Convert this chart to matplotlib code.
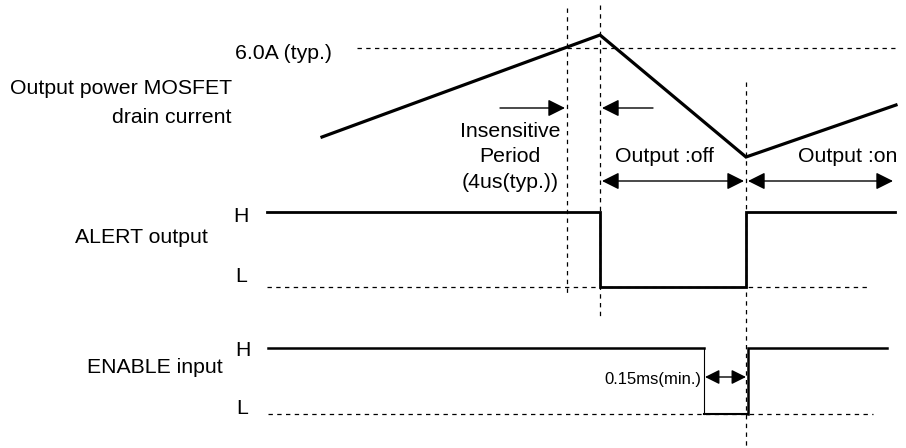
import matplotlib.pyplot as plt

plt.rcParams['font.family'] = ['Liberation Sans', 'DejaVu Sans']

# drain current waveform (x: time position, y: drawing level)
current_x = [322, 600, 746, 896]
current_y = [137, 35, 157, 105]
peak_level = 48

# ALERT output
alert_H, alert_L = 212, 287
alert_x = [267, 600, 600, 746, 746, 895]
alert_y = [alert_H, alert_H, alert_L, alert_L, alert_H, alert_H]

# ENABLE input
enable_H, enable_L = 348, 414
enable_fall, enable_rise = 704, 748
enable_start, enable_end = 268, 887

# timing markers
mark_x = [567, 600, 746]
mark_top = [8, 5, 82]
mark_bot = [293, 320, 448]

fig = plt.figure(figsize=(9.06, 4.48), dpi=100)
ax = fig.add_axes([0, 0, 1, 1])
ax.set_xlim(0, 906)
ax.set_ylim(448, 0)
ax.axis('off')

dash = dict(color='black', lw=0.9, linestyle=(0, (3.5, 3.5)))

# dashed guides
for x, t, b in zip(mark_x, mark_top, mark_bot):
    ax.plot([x, x], [t, b], **dash)
ax.plot([357, 895], [peak_level, peak_level], **dash)
ax.plot([267, 868], [alert_L, alert_L], **dash)
ax.plot([268, 873], [enable_L, enable_L], **dash)

# waveforms
ax.plot(current_x, current_y, color='black', lw=2.3, solid_joinstyle='miter')
ax.plot(alert_x, alert_y, color='black', lw=2.0, solid_joinstyle='miter')
ax.plot([enable_start, enable_fall], [enable_H, enable_H], color='black', lw=1.8)
ax.plot([enable_fall, enable_fall], [enable_H, enable_L], color='black', lw=0.8)
ax.plot([enable_fall, enable_rise], [enable_L, enable_L], color='black', lw=1.5)
ax.plot([enable_rise, enable_rise, enable_end], [enable_L, enable_H, enable_H],
        color='black', lw=1.8, solid_joinstyle='miter')

# arrows
def arrow(x0, x1, y, style, ms=26):
    ax.annotate('', xy=(x1, y), xytext=(x0, y),
                arrowprops=dict(arrowstyle=style, color='black', lw=1.0,
                                mutation_scale=ms, shrinkA=0, shrinkB=0))

arrow(500, 565, 108, '-|>')
arrow(653, 602, 108, '-|>')
arrow(602, 744, 181, '<|-|>')
arrow(748, 893, 181, '<|-|>')
arrow(705, 746, 377, '<|-|>', ms=22)

fs = 15.3
ax.text(332, 59, '6.0A (typ.)', fontsize=fs, ha='right', va='baseline')
ax.text(232, 94, 'Output power MOSFET', fontsize=fs, ha='right', va='baseline')
ax.text(232, 123, 'drain current', fontsize=fs, ha='right', va='baseline')
ax.text(510, 137, 'Insensitive', fontsize=fs, ha='center', va='baseline')
ax.text(510, 162, 'Period', fontsize=fs, ha='center', va='baseline')
ax.text(510, 188, '(4us(typ.))', fontsize=fs, ha='center', va='baseline')
ax.text(664, 162, 'Output :off', fontsize=fs, ha='center', va='baseline')
ax.text(848, 162, 'Output :on', fontsize=fs, ha='center', va='baseline')

ax.text(241, 222, 'H', fontsize=fs, ha='center', va='baseline')
ax.text(241, 282, 'L', fontsize=fs, ha='center', va='baseline')
ax.text(208, 243, 'ALERT output', fontsize=fs, ha='right', va='baseline')

ax.text(243, 356, 'H', fontsize=fs, ha='center', va='baseline')
ax.text(242, 414, 'L', fontsize=fs, ha='center', va='baseline')
ax.text(223, 373, 'ENABLE input', fontsize=fs, ha='right', va='baseline')
ax.text(701, 384, '0.15ms(min.)', fontsize=12, ha='right', va='baseline')

fig.savefig('out.png', dpi=100)
